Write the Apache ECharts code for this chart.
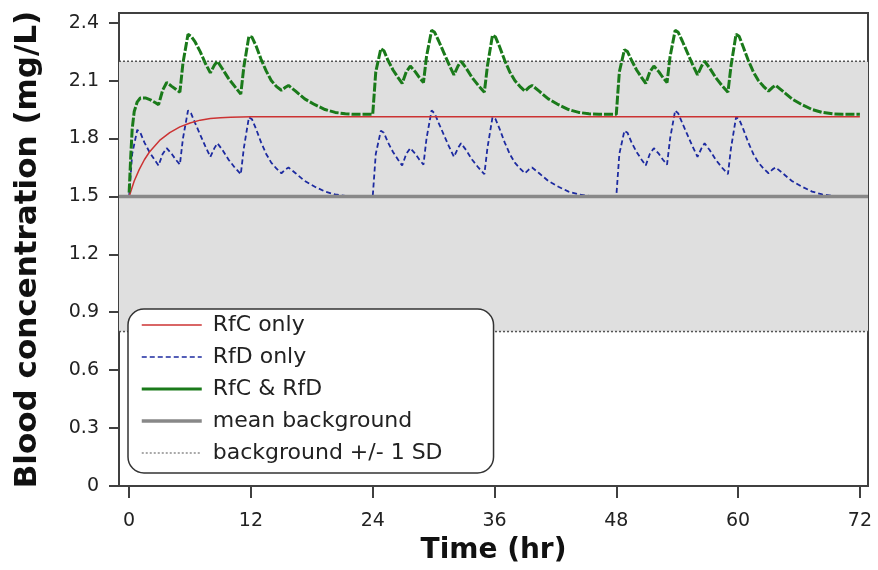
<!DOCTYPE html>
<html>
<head>
<meta charset="utf-8">
<script src="https://cdn.jsdelivr.net/npm/echarts@6/dist/echarts.min.js"></script>
<style>
html,body{margin:0;padding:0;background:#fff;}
#chart{width:878px;height:570px;}
</style>
</head>
<body>
<div id="chart"></div>
<script>
// ---- Data ----
const xTicks = [0, 12, 24, 36, 48, 60, 72];
const yTicks = [0, 0.3, 0.6, 0.9, 1.2, 1.5, 1.8, 2.1, 2.4];

// RfC only (red)
const rfcTime = [0, 0.25, 0.5, 1, 1.5, 2, 2.5, 3, 4, 5, 6, 7, 8, 9, 10, 12, 72];
const rfcConc = [1.50, 1.54, 1.58, 1.64, 1.69, 1.73, 1.76, 1.79, 1.83, 1.86, 1.88, 1.895, 1.903, 1.908, 1.91, 1.912, 1.912];

// RfD only (blue dashed)
const rfdTime = [
  0, 0.3, 0.8, 1.1, 1.5, 2.0, 2.5, 2.9, 3.3, 3.7, 4.2, 4.6, 5.0, 5.3, 5.8, 6.1, 6.5, 7.0, 7.5, 8.0, 8.4, 8.7, 9.2, 9.8, 10.4, 11.0, 11.3, 11.8, 12.1, 12.5, 13.0, 13.5, 14.0, 14.5, 15.0, 15.4, 15.7, 16.4, 17.3, 18.3, 19.3, 20.3, 21.3, 22.3, 24,
  24.3, 24.8, 25.1, 25.5, 26.0, 26.5, 26.9, 27.3, 27.7, 28.2, 28.6, 29.0, 29.3, 29.8, 30.1, 30.5, 31.0, 31.5, 32.0, 32.4, 32.7, 33.2, 33.8, 34.4, 35.0, 35.3, 35.8, 36.1, 36.5, 37.0, 37.5, 38.0, 38.5, 39.0, 39.4, 39.7, 40.4, 41.3, 42.3, 43.3, 44.3, 45.3, 46.3, 48,
  48.3, 48.8, 49.1, 49.5, 50.0, 50.5, 50.9, 51.3, 51.7, 52.2, 52.6, 53.0, 53.3, 53.8, 54.1, 54.5, 55.0, 55.5, 56.0, 56.4, 56.7, 57.2, 57.8, 58.4, 59.0, 59.3, 59.8, 60.1, 60.5, 61.0, 61.5, 62.0, 62.5, 63.0, 63.4, 63.7, 64.4, 65.3, 66.3, 67.3, 68.3, 69.3, 70.3, 72
];
const rfdConc = [
  1.50, 1.72, 1.845, 1.83, 1.78, 1.73, 1.69, 1.66, 1.72, 1.75, 1.72, 1.69, 1.665, 1.80, 1.945, 1.93, 1.88, 1.82, 1.76, 1.705, 1.75, 1.775, 1.74, 1.69, 1.65, 1.615, 1.75, 1.91, 1.90, 1.85, 1.78, 1.72, 1.675, 1.645, 1.62, 1.64, 1.65, 1.62, 1.58, 1.55, 1.525, 1.51, 1.503, 1.50, 1.50,
  1.72, 1.84, 1.83, 1.78, 1.73, 1.69, 1.66, 1.72, 1.75, 1.72, 1.69, 1.665, 1.80, 1.945, 1.93, 1.88, 1.82, 1.76, 1.705, 1.75, 1.775, 1.74, 1.69, 1.65, 1.615, 1.75, 1.91, 1.90, 1.85, 1.78, 1.72, 1.675, 1.645, 1.62, 1.64, 1.65, 1.62, 1.58, 1.55, 1.525, 1.51, 1.503, 1.50, 1.50,
  1.72, 1.84, 1.83, 1.78, 1.73, 1.69, 1.66, 1.72, 1.75, 1.72, 1.69, 1.665, 1.80, 1.945, 1.93, 1.88, 1.82, 1.76, 1.705, 1.75, 1.775, 1.74, 1.69, 1.65, 1.615, 1.75, 1.91, 1.90, 1.85, 1.78, 1.72, 1.675, 1.645, 1.62, 1.64, 1.65, 1.62, 1.58, 1.55, 1.525, 1.51, 1.503, 1.50, 1.50
];

// RfC & RfD (green)
const bothTime = [
  0, 0.15, 0.3, 0.5, 0.8, 1.1, 1.6, 2.1, 2.6, 2.9, 3.3, 3.7, 4.2, 4.6, 5.0, 5.3, 5.8, 6.1, 6.5, 7.0, 7.5, 8.0, 8.4, 8.7, 9.2, 9.8, 10.4, 11.0, 11.3, 11.8, 12.1, 12.5, 13.0, 13.5, 14.0, 14.5, 15.0, 15.4, 15.7, 16.4, 17.3, 18.3, 19.3, 20.3, 21.3, 22.3, 24,
  24.3, 24.8, 25.1, 25.5, 26.0, 26.5, 26.9, 27.3, 27.7, 28.2, 28.6, 29.0, 29.3, 29.8, 30.1, 30.5, 31.0, 31.5, 32.0, 32.4, 32.7, 33.2, 33.8, 34.4, 35.0, 35.3, 35.8, 36.1, 36.5, 37.0, 37.5, 38.0, 38.5, 39.0, 39.4, 39.7, 40.4, 41.3, 42.3, 43.3, 44.3, 45.3, 46.3, 48,
  48.3, 48.8, 49.1, 49.5, 50.0, 50.5, 50.9, 51.3, 51.7, 52.2, 52.6, 53.0, 53.3, 53.8, 54.1, 54.5, 55.0, 55.5, 56.0, 56.4, 56.7, 57.2, 57.8, 58.4, 59.0, 59.3, 59.8, 60.1, 60.5, 61.0, 61.5, 62.0, 62.5, 63.0, 63.4, 63.7, 64.4, 65.3, 66.3, 67.3, 68.3, 69.3, 70.3, 72
];
const bothConc = [
  1.52, 1.70, 1.85, 1.94, 1.99, 2.01, 2.01, 2.00, 1.985, 1.975, 2.05, 2.09, 2.07, 2.055, 2.04, 2.19, 2.34, 2.33, 2.30, 2.25, 2.19, 2.14, 2.18, 2.20, 2.16, 2.11, 2.07, 2.03, 2.17, 2.33, 2.325, 2.28, 2.21, 2.15, 2.10, 2.07, 2.05, 2.065, 2.075, 2.045, 2.005, 1.975, 1.95, 1.935, 1.928, 1.925, 1.925,
  2.145, 2.265, 2.255, 2.205, 2.155, 2.115, 2.085, 2.145, 2.175, 2.145, 2.115, 2.09, 2.225, 2.36, 2.35, 2.305, 2.245, 2.185, 2.13, 2.175, 2.20, 2.165, 2.115, 2.075, 2.04, 2.175, 2.335, 2.325, 2.275, 2.205, 2.145, 2.10, 2.07, 2.045, 2.065, 2.075, 2.045, 2.005, 1.975, 1.95, 1.935, 1.928, 1.925, 1.925,
  2.145, 2.26, 2.25, 2.205, 2.155, 2.115, 2.085, 2.145, 2.175, 2.145, 2.115, 2.09, 2.225, 2.36, 2.35, 2.305, 2.245, 2.185, 2.13, 2.175, 2.20, 2.165, 2.115, 2.075, 2.04, 2.175, 2.34, 2.33, 2.275, 2.205, 2.145, 2.10, 2.07, 2.045, 2.065, 2.075, 2.045, 2.005, 1.975, 1.95, 1.935, 1.928, 1.925, 1.925
];

// Background statistics
const xRange = [-1, 72.8];
const yRange = [0, 2.45];
const meanBackground = 1.5;
const sdLow = 0.8;
const sdHigh = 2.2;

// ---- Build ----
const zip = (a, b) => a.map((v, i) => [v, b[i]]);
const FONT = 'DejaVu Sans';

const RED = '#cc3333', BLUE = '#1c2aa0', GREEN = '#1a7a1a', GRAY = '#888888', DOT = '#555555';

const chart = echarts.init(document.getElementById('chart'), null, {renderer: 'canvas'});
chart.setOption({
  animation: false,
  backgroundColor: '#ffffff',
  grid: {
    left: 119, right: 10, top: 13, bottom: 84,
    show: true, borderColor: '#404040', borderWidth: 2, backgroundColor: 'transparent'
  },
  xAxis: {
    type: 'value', min: xRange[0], max: xRange[1],
    name: 'Time (hr)', nameLocation: 'middle', nameGap: 51,
    nameTextStyle: {fontFamily: FONT, fontSize: 28, fontWeight: 'bold', color: '#111'},
    axisLine: {show: true, onZero: false, lineStyle: {color: '#404040', width: 2}},
    axisTick: {show: true, inside: false, length: 12, customValues: xTicks, lineStyle: {color: '#404040', width: 2}},
    axisLabel: {customValues: xTicks, margin: 26, fontFamily: FONT, fontSize: 19, color: '#222'},
    splitLine: {show: false}
  },
  yAxis: {
    type: 'value', min: yRange[0], max: yRange[1],
    name: 'Blood concentration (mg/L)', nameLocation: 'middle', nameGap: 76,
    nameTextStyle: {fontFamily: FONT, fontSize: 31, fontWeight: 'bold', color: '#111'},
    axisLine: {show: true, onZero: false, lineStyle: {color: '#404040', width: 2}},
    axisTick: {show: true, inside: false, length: 10, customValues: yTicks, lineStyle: {color: '#404040', width: 2}},
    axisLabel: {customValues: yTicks, margin: 20, fontFamily: FONT, fontSize: 19, color: '#222',
      formatter: v => (v === 0 ? '0' : v.toFixed(1))},
    splitLine: {show: false}
  },
  legend: {
    orient: 'vertical', left: 128, top: 309,
    padding: [5, 51, 9, 12],
    itemWidth: 60, itemHeight: 14, itemGap: 10,
    backgroundColor: '#ffffff', borderColor: '#333', borderWidth: 1.5, borderRadius: 16,
    itemStyle: {opacity: 0},
    textStyle: {fontFamily: FONT, fontSize: 22, color: '#222', padding: [0, 0, 0, 6]},
    data: [
      {name: 'RfC only', lineStyle: {width: 1.5}},
      {name: 'RfD only', lineStyle: {width: 1.5}},
      {name: 'RfC & RfD', lineStyle: {type: 'solid', width: 3}},
      {name: 'mean background', lineStyle: {width: 3.5}},
      {name: 'background +/- 1 SD', lineStyle: {width: 1.2}}
    ],
    z: 20
  },
  series: [
    {
      name: 'background +/- 1 SD', type: 'line', z: 1, symbol: 'none', silent: true,
      itemStyle: {color: DOT},
      data: [[xRange[0], sdHigh], [xRange[1], sdHigh]],
      lineStyle: {color: DOT, width: 1.5, type: [2, 2]},
      markArea: {silent: true, itemStyle: {color: '#dfdfdf'}, data: [[{yAxis: sdLow}, {yAxis: sdHigh}]]}
    },
    {
      name: 'background +/- 1 SD', type: 'line', z: 1, symbol: 'none', silent: true,
      itemStyle: {color: DOT},
      data: [[xRange[0], sdLow], [xRange[1], sdLow]],
      lineStyle: {color: DOT, width: 1.5, type: [2, 2]}
    },
    {
      name: 'RfC only', type: 'line', z: 3, symbol: 'none', showSymbol: false,
      itemStyle: {color: RED},
      data: zip(rfcTime, rfcConc),
      lineStyle: {color: RED, width: 1.5}
    },
    {
      name: 'RfD only', type: 'line', z: 2, symbol: 'none', showSymbol: false,
      itemStyle: {color: BLUE},
      data: zip(rfdTime, rfdConc),
      lineStyle: {color: BLUE, width: 1.8, type: [5, 3]}
    },
    {
      name: 'mean background', type: 'line', z: 4, symbol: 'none', silent: true,
      itemStyle: {color: GRAY},
      data: [[xRange[0], meanBackground], [xRange[1], meanBackground]],
      lineStyle: {color: GRAY, width: 3.5}
    },
    {
      name: 'RfC & RfD', type: 'line', z: 5, symbol: 'none', showSymbol: false,
      itemStyle: {color: GREEN},
      data: zip(bothTime, bothConc),
      lineStyle: {color: GREEN, width: 3, type: [9, 2]}
    }
  ]
});
</script>
</body>
</html>
